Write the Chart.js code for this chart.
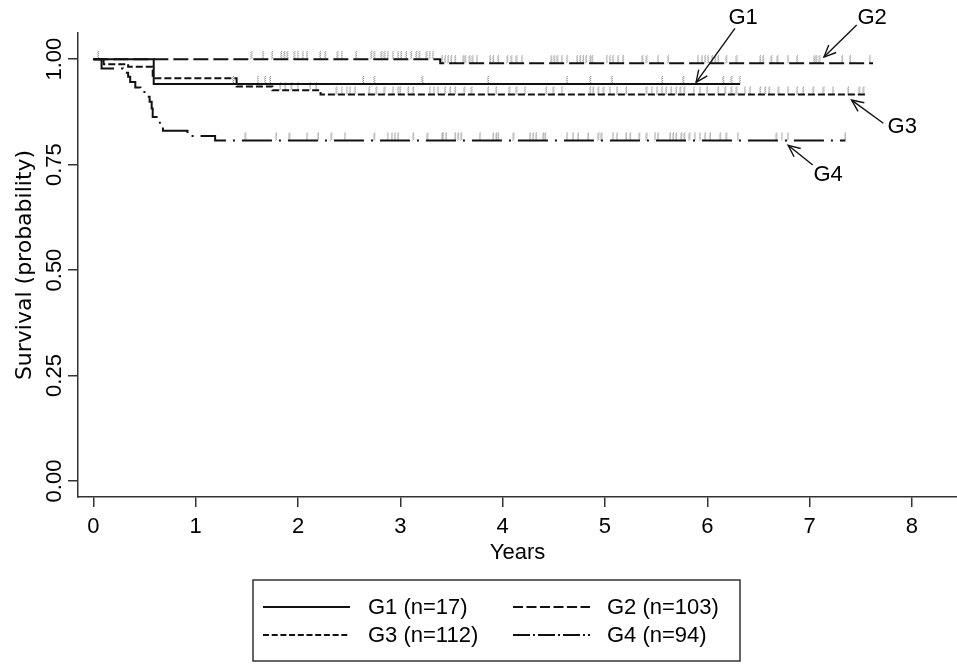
<!DOCTYPE html>
<html><head><meta charset="utf-8">
<script src="https://cdn.jsdelivr.net/npm/chart.js@4.4.1/dist/chart.umd.min.js"></script>
<style>html,body{margin:0;padding:0;background:#fff;overflow:hidden}#wrap{width:957px;height:664px;position:relative}</style>
</head><body><div id="wrap"><canvas id="c" width="957" height="664"></canvas></div>
<script>
// ---- data ----
const groupNames = ['G1', 'G2', 'G3', 'G4'];
const groupLabels = ['G1 (n=17)', 'G2 (n=103)', 'G3 (n=112)', 'G4 (n=94)'];

const g1Times = [0, 0.59, 6.32];
const g1Surv  = [1.000, 0.941, 0.941];
const g2Times = [0, 3.39, 7.62];
const g2Surv  = [1.000, 0.990, 0.990];
const g3Times = [0, 0.10, 0.34, 0.58, 1.40, 1.75, 2.22, 7.54];
const g3Surv  = [1.000, 0.988, 0.982, 0.955, 0.935, 0.926, 0.916, 0.916];
const g4Times = [0, 0.08, 0.29, 0.34, 0.36, 0.41, 0.46, 0.52, 0.55, 0.57, 0.58, 0.65, 0.68, 0.92, 1.19, 7.35];
const g4Surv  = [1.000, 0.978, 0.968, 0.958, 0.946, 0.933, 0.922, 0.911, 0.899, 0.883, 0.863, 0.841, 0.830, 0.818, 0.807, 0.807];

// censoring times (years)
const g1Censor = [1.37, 1.61, 1.68, 1.73, 2.64, 2.75, 3.22, 3.86, 4.63, 4.86, 5.07, 5.56, 5.77, 6.16, 6.24, 6.32];
const g2Censor = [0.05, 1.55, 1.66, 1.75, 1.84, 1.87, 1.90, 1.97, 2.00, 2.05, 2.09, 2.22, 2.27, 2.39, 2.43, 2.57, 2.72, 2.75,
  2.82, 2.85, 2.88, 2.93, 2.98, 3.01, 3.06, 3.11, 3.16, 3.19, 3.26, 3.29, 3.32, 3.41, 3.44, 3.47, 3.50, 3.54, 3.62, 3.64,
  3.68, 3.71, 3.75, 3.88, 3.91, 3.96, 4.05, 4.09, 4.14, 4.19, 4.48, 4.51, 4.54, 4.58, 4.63, 4.73, 4.76, 4.79, 4.82, 4.86,
  4.88, 5.02, 5.05, 5.08, 5.13, 5.18, 5.37, 5.41, 5.52, 5.62, 5.91, 5.95, 5.98, 6.01, 6.05, 6.08, 6.11, 6.19, 6.29, 6.52,
  6.55, 6.63, 6.69, 6.79, 6.88, 7.05, 7.07, 7.10, 7.32, 7.40, 7.59];
const g3Censor = [1.83, 1.88, 1.94, 2.00, 2.12, 2.18, 2.38, 2.43, 2.48, 2.51, 2.56, 2.70, 2.77, 2.85, 2.93, 2.98, 3.00, 3.08,
  3.13, 3.29, 3.33, 3.37, 3.44, 3.49, 3.54, 3.63, 3.70, 3.86, 3.94, 4.07, 4.14, 4.22, 4.43, 4.50, 4.58, 4.86, 4.89, 4.94,
  4.99, 5.05, 5.12, 5.21, 5.41, 5.46, 5.51, 5.56, 5.60, 5.65, 5.70, 5.74, 5.78, 5.87, 5.93, 6.00, 6.11, 6.18, 6.24, 6.29,
  6.37, 6.42, 6.52, 6.57, 6.61, 6.70, 6.79, 6.88, 6.94, 7.04, 7.14, 7.23, 7.38, 7.49, 7.53];
const g4Censor = [1.49, 1.79, 1.92, 2.09, 2.20, 2.33, 2.46, 2.75, 2.88, 2.92, 2.95, 2.98, 3.13, 3.27, 3.41, 3.42, 3.45, 3.54,
  3.57, 3.60, 3.78, 3.91, 3.94, 3.96, 4.11, 4.27, 4.30, 4.33, 4.40, 4.42, 4.63, 4.69, 4.74, 4.84, 4.94, 4.97, 5.08, 5.12,
  5.21, 5.25, 5.34, 5.41, 5.49, 5.52, 5.64, 5.67, 5.70, 5.75, 5.78, 5.83, 5.88, 5.93, 5.98, 6.03, 6.13, 6.19, 6.30, 6.68,
  6.73, 6.79, 7.35];

const xTicks = [0, 1, 2, 3, 4, 5, 6, 7, 8];
const yTicks = [0, 0.25, 0.5, 0.75, 1.0];
const xTitle = 'Years';
const yTitle = 'Survival (probability)';

// annotation labels with arrows (data units)
const annLabels = ['G1', 'G2', 'G3', 'G4'];
const annTextX = [6.35, 7.61, 7.905, 7.18];
const annTextY = [1.097, 1.097, 0.839, 0.725];
const annFromX = [6.27, 7.46, 7.72, 7.03];
const annFromY = [1.073, 1.081, 0.848, 0.749];
const annTipX  = [5.89, 7.14, 7.41, 6.79];
const annTipY  = [0.945, 1.005, 0.903, 0.796];

// ---- styles ----
const FONT = "'Liberation Sans', Arial, sans-serif";
const FS = 22;
const INK = '#111';
const plotDash = [[], [15, 5], [7, 3], [30, 7, 2, 7]];
const legendDash = [[], [10, 3.5], [6, 2.7], [17, 3, 2, 3]];

function toPts(times, surv) { return times.map((t, i) => ({x: t, y: surv[i]})); }
function survAt(times, surv, t) { let s = surv[0]; for (let i = 0; i < times.length; i++) if (times[i] <= t) s = surv[i]; return s; }
function censorPts(c, times, surv) { return c.map(t => ({x: t, y: survAt(times, surv, t)})); }

function makeMark() {
  const c = document.createElement('canvas'); c.width = 3; c.height = 18;
  const g = c.getContext('2d'); g.fillStyle = '#7a7a7a';
  for (let yy = 1; yy < 9; yy += 2) g.fillRect(1, yy, 1, 1);
  g.fillStyle = '#b0b0b0';
  for (let yy = 2; yy < 9; yy += 2) g.fillRect(0, yy, 1, 1);
  return c;
}
const mark = makeMark();

const timesAll = [g1Times, g2Times, g3Times, g4Times];
const survAll = [g1Surv, g2Surv, g3Surv, g4Surv];
const censAll = [g1Censor, g2Censor, g3Censor, g4Censor];

const datasets = [];
for (let i = 0; i < 4; i++) {
  datasets.push({
    label: groupLabels[i], data: toPts(timesAll[i], survAll[i]), stepped: true,
    borderColor: INK, borderWidth: 2, borderDash: plotDash[i], pointRadius: 0, fill: false
  });
}
for (let i = 0; i < 4; i++) {
  datasets.push({
    label: groupNames[i] + ' censored', data: censorPts(censAll[i], timesAll[i], survAll[i]),
    showLine: false, pointStyle: mark, pointRadius: 4
  });
}

const annotPlugin = {
  id: 'annot',
  afterDraw(chart) {
    const {ctx, scales: {x, y}} = chart;
    ctx.save();
    ctx.strokeStyle = INK; ctx.lineWidth = 1.4; ctx.setLineDash([]);
    ctx.fillStyle = '#000'; ctx.font = FS + 'px ' + FONT; ctx.textAlign = 'center'; ctx.textBaseline = 'middle';
    for (let i = 0; i < annLabels.length; i++) {
      const fx = x.getPixelForValue(annFromX[i]), fy = y.getPixelForValue(annFromY[i]);
      const tx = x.getPixelForValue(annTipX[i]), ty = y.getPixelForValue(annTipY[i]);
      ctx.beginPath(); ctx.moveTo(fx, fy); ctx.lineTo(tx, ty); ctx.stroke();
      const a = Math.atan2(ty - fy, tx - fx), L = 13, w = 0.42;
      ctx.beginPath();
      ctx.moveTo(tx - L * Math.cos(a - w), ty - L * Math.sin(a - w));
      ctx.lineTo(tx, ty);
      ctx.lineTo(tx - L * Math.cos(a + w), ty - L * Math.sin(a + w));
      ctx.stroke();
      ctx.fillText(annLabels[i], x.getPixelForValue(annTextX[i]), y.getPixelForValue(annTextY[i]));
    }
    // legend box
    const bx = 253, by = 580, bw = 487, bh = 81;
    ctx.strokeStyle = '#333'; ctx.lineWidth = 1.5;
    ctx.strokeRect(bx, by, bw, bh);
    const rowsY = [607, 635];
    const colLine = [[263, 350], [513, 590]];
    const colText = [368, 607];
    ctx.textAlign = 'left'; ctx.font = FS + 'px ' + FONT;
    for (let i = 0; i < 4; i++) {
      const r = Math.floor(i / 2), c = i % 2;
      ctx.strokeStyle = INK; ctx.lineWidth = 1.8; ctx.setLineDash(legendDash[i]);
      ctx.beginPath(); ctx.moveTo(colLine[c][0], rowsY[r]); ctx.lineTo(colLine[c][1], rowsY[r]); ctx.stroke();
      ctx.setLineDash([]);
      ctx.fillText(groupLabels[i], colText[c], rowsY[r] + 1);
    }
    ctx.restore();
  }
};

Chart.defaults.font.family = FONT;
Chart.defaults.color = '#000';

new Chart(document.getElementById('c'), {
  type: 'line',
  data: {datasets},
  options: {
    responsive: false, animation: false, events: [], devicePixelRatio: 1,
    layout: {padding: {top: 33, bottom: 94, left: 0, right: 0}, autoPadding: false},
    plugins: {legend: {display: false}, tooltip: {enabled: false}},
    scales: {
      x: {
        type: 'linear', min: -0.15, max: 8.44,
        afterBuildTicks: s => { s.ticks = xTicks.map(v => ({value: v})); },
        afterFit: s => { s.height = 73; },
        ticks: {font: {size: FS}, color: '#000', padding: 7, autoSkip: false, maxRotation: 0, callback: v => String(v)},
        grid: {drawOnChartArea: false, drawTicks: true, tickLength: 10, color: '#333', lineWidth: 1.5},
        border: {display: true, color: '#333', width: 1.5},
        title: {display: true, text: xTitle, font: {size: FS}, color: '#000', padding: {top: 4, bottom: 4}}
      },
      y: {
        type: 'linear', min: -0.038, max: 1.062,
        afterBuildTicks: s => { s.ticks = yTicks.map(v => ({value: v})); },
        afterFit: s => { s.width = 78; },
        ticks: {font: {size: FS}, color: '#000', padding: -8, autoSkip: false, minRotation: 90, maxRotation: 90,
                crossAlign: 'center', callback: v => Number(v).toFixed(2)},
        grid: {drawOnChartArea: false, drawTicks: true, tickLength: 10, color: '#333', lineWidth: 1.5},
        border: {display: true, color: '#333', width: 1.5},
        title: {display: true, text: yTitle, font: {family: "'DejaVu Sans', sans-serif", size: 22}, color: '#000',
                padding: {top: 12, bottom: 4}}
      }
    }
  },
  plugins: [annotPlugin]
});
</script>
</body></html>
